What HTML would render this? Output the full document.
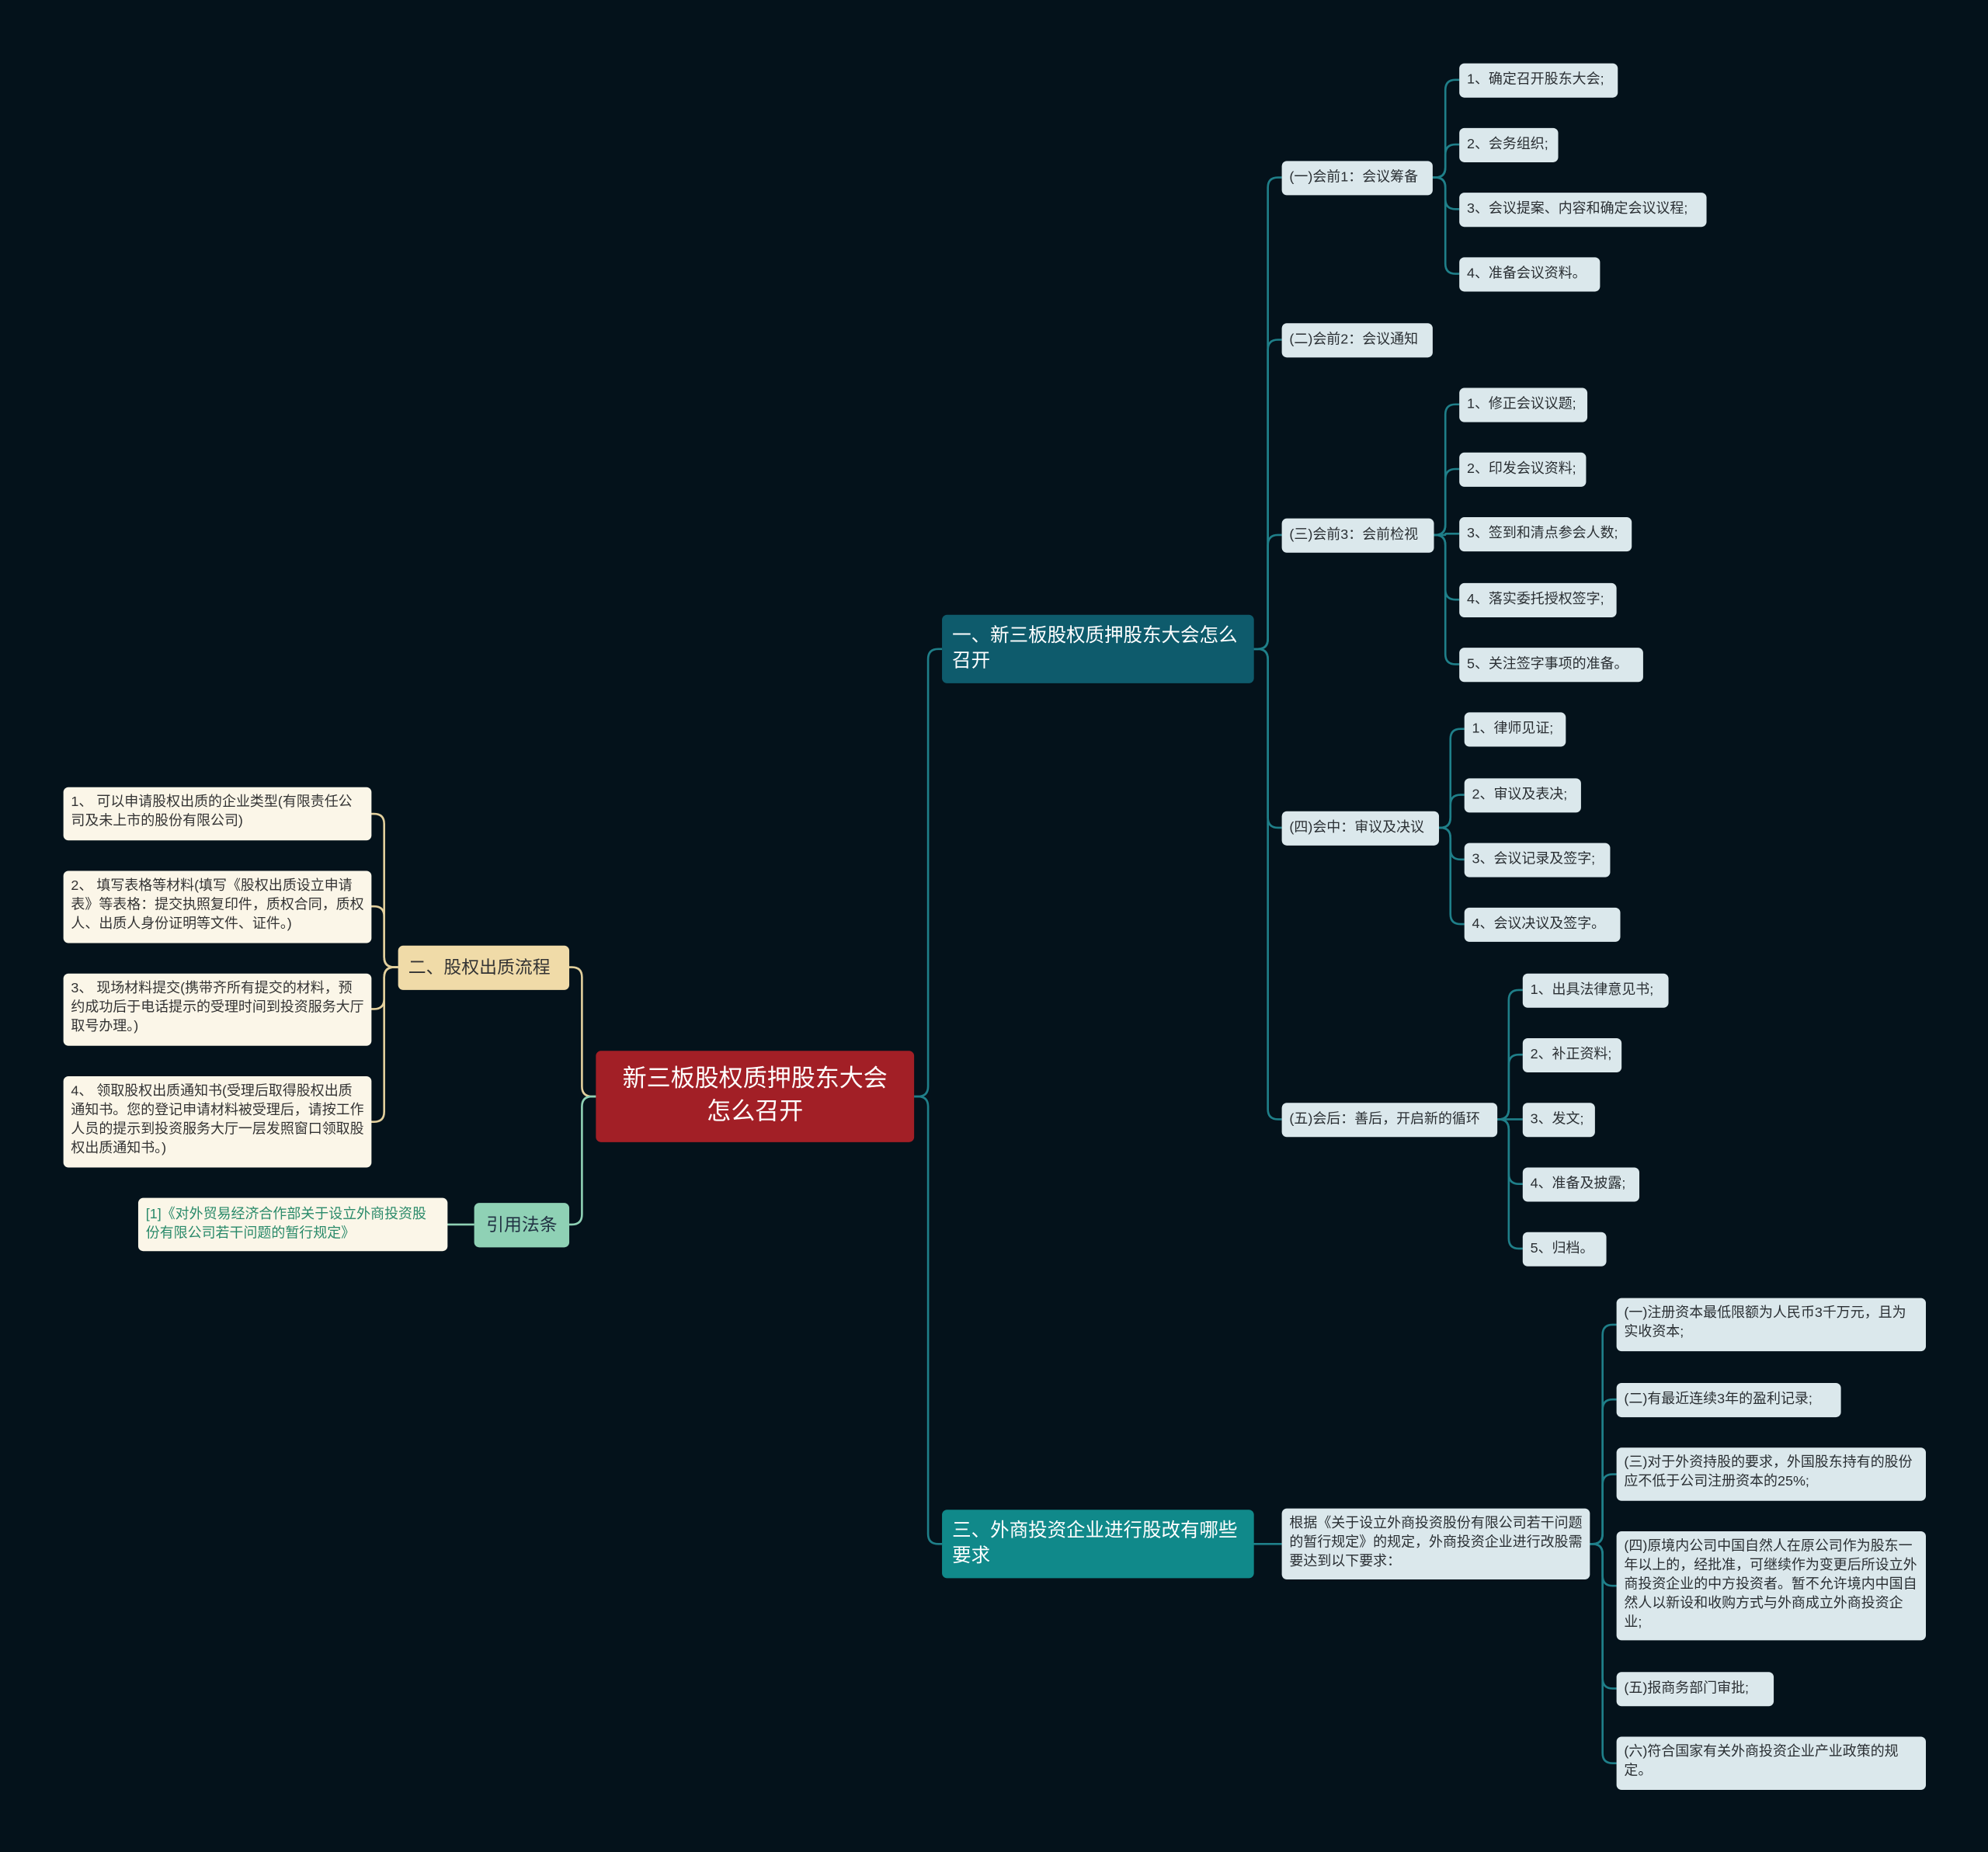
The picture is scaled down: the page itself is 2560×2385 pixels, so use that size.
<!DOCTYPE html>
<html><head><meta charset="utf-8">
<style>
html,body{margin:0;padding:0;background:#04121b;}
#wrap{position:absolute;left:0;top:0;width:1568px;height:1461px;transform:scale(1.63265,1.63244);transform-origin:0 0;background:#04121b;overflow:hidden;}
.n{position:absolute;box-sizing:border-box;font-family:"Liberation Sans","Noto Sans CJK SC",sans-serif;border-radius:4px;}
.lf{background:#dbe8ec;color:#2a2f33;font-size:11px;line-height:15px;padding:5px 6px;}
.lf[style*="height:27px"]{white-space:nowrap;padding-top:6px;overflow:hidden;}
.cr{background:#fbf6e8;color:#333;font-size:11px;line-height:15px;padding:5px 6px;}
.l1{color:#fff;font-size:15px;line-height:20px;padding:7px 8px;}
svg{position:absolute;left:0;top:0;}
</style></head><body><div id="wrap">
<svg id="s" width="1568" height="1461"></svg>

<div class="n" style="left:470px;top:829px;width:251px;height:72px;background:#a21f26;color:#fff;font-size:19px;line-height:26px;text-align:center;padding-top:10px;">新三板股权质押股东大会<br>怎么召开</div>

<div class="n l1" style="left:743px;top:485px;width:246px;height:54px;background:#0e5b6c;">一、新三板股权质押股东大会怎么召开</div>
<div class="n l1" style="left:743px;top:1191px;width:246px;height:54px;background:#10898a;">三、外商投资企业进行股改有哪些要求</div>
<div class="n" style="left:314px;top:746px;width:135px;height:35px;background:#f0dba8;color:#333;font-size:14px;line-height:35px;padding-left:8px;">二、股权出质流程</div>
<div class="n" style="left:374px;top:949px;width:75px;height:35px;background:#8fd1b5;color:#234;font-size:14px;line-height:35px;text-align:center;">引用法条</div>
<div class="n cr" style="left:109px;top:945px;width:244px;height:42px;color:#2a8a6a;padding-top:6px;">[1]《对外贸易经济合作部关于设立外商投资股份有限公司若干问题的暂行规定》</div>

<div class="n cr" style="left:50px;top:621px;width:243px;height:42px;">1、 可以申请股权出质的企业类型(有限责任公司及未上市的股份有限公司)</div>
<div class="n cr" style="left:50px;top:687px;width:243px;height:57px;">2、 填写表格等材料(填写《股权出质设立申请表》等表格：提交执照复印件，质权合同，质权人、出质人身份证明等文件、证件。)</div>
<div class="n cr" style="left:50px;top:768px;width:243px;height:57px;">3、 现场材料提交(携带齐所有提交的材料，预约成功后于电话提示的受理时间到投资服务大厅取号办理。)</div>
<div class="n cr" style="left:50px;top:849px;width:243px;height:72px;">4、 领取股权出质通知书(受理后取得股权出质通知书。您的登记申请材料被受理后，请按工作人员的提示到投资服务大厅一层发照窗口领取股权出质通知书。)</div>

<div class="n lf" style="left:1011px;top:127px;width:119px;height:27px;">(一)会前1：会议筹备</div>
<div class="n lf" style="left:1011px;top:255px;width:119px;height:27px;">(二)会前2：会议通知</div>
<div class="n lf" style="left:1011px;top:409px;width:120px;height:27px;">(三)会前3：会前检视</div>
<div class="n lf" style="left:1011px;top:640px;width:124px;height:27px;">(四)会中：审议及决议</div>
<div class="n lf" style="left:1011px;top:870px;width:170px;height:27px;">(五)会后：善后，开启新的循环</div>

<div class="n lf" style="left:1151px;top:50px;width:125px;height:27px;">1、确定召开股东大会;</div>
<div class="n lf" style="left:1151px;top:101px;width:78px;height:27px;">2、会务组织;</div>
<div class="n lf" style="left:1151px;top:152px;width:195px;height:27px;">3、会议提案、内容和确定会议议程;</div>
<div class="n lf" style="left:1151px;top:203px;width:111px;height:27px;">4、准备会议资料。</div>

<div class="n lf" style="left:1151px;top:306px;width:101px;height:27px;">1、修正会议议题;</div>
<div class="n lf" style="left:1151px;top:357px;width:100px;height:27px;">2、印发会议资料;</div>
<div class="n lf" style="left:1151px;top:408px;width:136px;height:27px;">3、签到和清点参会人数;</div>
<div class="n lf" style="left:1151px;top:460px;width:124px;height:27px;">4、落实委托授权签字;</div>
<div class="n lf" style="left:1151px;top:511px;width:145px;height:27px;">5、关注签字事项的准备。</div>

<div class="n lf" style="left:1155px;top:562px;width:80px;height:27px;">1、律师见证;</div>
<div class="n lf" style="left:1155px;top:614px;width:92px;height:27px;">2、审议及表决;</div>
<div class="n lf" style="left:1155px;top:665px;width:115px;height:27px;">3、会议记录及签字;</div>
<div class="n lf" style="left:1155px;top:716px;width:123px;height:27px;">4、会议决议及签字。</div>

<div class="n lf" style="left:1201px;top:768px;width:115px;height:27px;">1、出具法律意见书;</div>
<div class="n lf" style="left:1201px;top:819px;width:78px;height:27px;">2、补正资料;</div>
<div class="n lf" style="left:1201px;top:870px;width:57px;height:27px;">3、发文;</div>
<div class="n lf" style="left:1201px;top:921px;width:92px;height:27px;">4、准备及披露;</div>
<div class="n lf" style="left:1201px;top:972px;width:66px;height:27px;">5、归档。</div>

<div class="n lf" style="left:1011px;top:1190px;width:243px;height:56px;">根据《关于设立外商投资股份有限公司若干问题的暂行规定》的规定，外商投资企业进行改股需要达到以下要求：</div>

<div class="n lf" style="left:1275px;top:1024px;width:244px;height:42px;">(一)注册资本最低限额为人民币3千万元，且为实收资本;</div>
<div class="n lf" style="left:1275px;top:1091px;width:177px;height:27px;">(二)有最近连续3年的盈利记录;</div>
<div class="n lf" style="left:1275px;top:1142px;width:244px;height:42px;">(三)对于外资持股的要求，外国股东持有的股份应不低于公司注册资本的25%;</div>
<div class="n lf" style="left:1275px;top:1208px;width:244px;height:86px;">(四)原境内公司中国自然人在原公司作为股东一年以上的，经批准，可继续作为变更后所设立外商投资企业的中方投资者。暂不允许境内中国自然人以新设和收购方式与外商成立外商投资企业;</div>
<div class="n lf" style="left:1275px;top:1319px;width:124px;height:27px;">(五)报商务部门审批;</div>
<div class="n lf" style="left:1275px;top:1370px;width:244px;height:42px;">(六)符合国家有关外商投资企业产业政策的规定。</div>
</div>
<script>
var s=document.getElementById('s'),NS='http://www.w3.org/2000/svg';
function e(px,py,tx,cx,cy,col){var r=Math.min(8,Math.abs(cy-py)/2),d;
var dir=cx>px?1:-1;
if(Math.abs(cy-py)<1){d='M'+px+' '+py+'H'+cx;}
else{var sg=cy>py?1:-1;d='M'+px+' '+py+'H'+(tx-dir*r)+'Q'+tx+' '+py+' '+tx+' '+(py+sg*r)+'V'+(cy-sg*r)+'Q'+tx+' '+cy+' '+(tx+dir*r)+' '+cy+'H'+cx;}
var p=document.createElementNS(NS,'path');p.setAttribute('d',d);p.setAttribute('fill','none');p.setAttribute('stroke',col);p.setAttribute('stroke-width','1.6');s.appendChild(p);}
var T='#1f7f89',B='#e2cf9c',G='#8fd1b5';
e(720,865,732,743,512,T);e(720,865,732,743,1218,T);
e(470,865,459,448,763,B);e(470,865,459,448,966,G);
e(374,966,363,352,966,G);
[642,715,796,885].forEach(function(y){e(314,763,303,292,y,B);});
[140,268,422,653,883].forEach(function(y){e(988,512,1000,1011,y,T);});
[63,114,165,216].forEach(function(y){e(1129,140,1140,1151,y,T);});
[319,370,421,473,524].forEach(function(y){e(1130,422,1140,1151,y,T);});
[575,627,678,729].forEach(function(y){e(1134,653,1144,1155,y,T);});
[781,832,883,934,985].forEach(function(y){e(1180,883,1190,1201,y,T);});
e(988,1218,1000,1011,1218,T);
[1045,1104,1163,1251,1332,1391].forEach(function(y){e(1253,1218,1264,1275,y,T);});
</script>
</body></html>
